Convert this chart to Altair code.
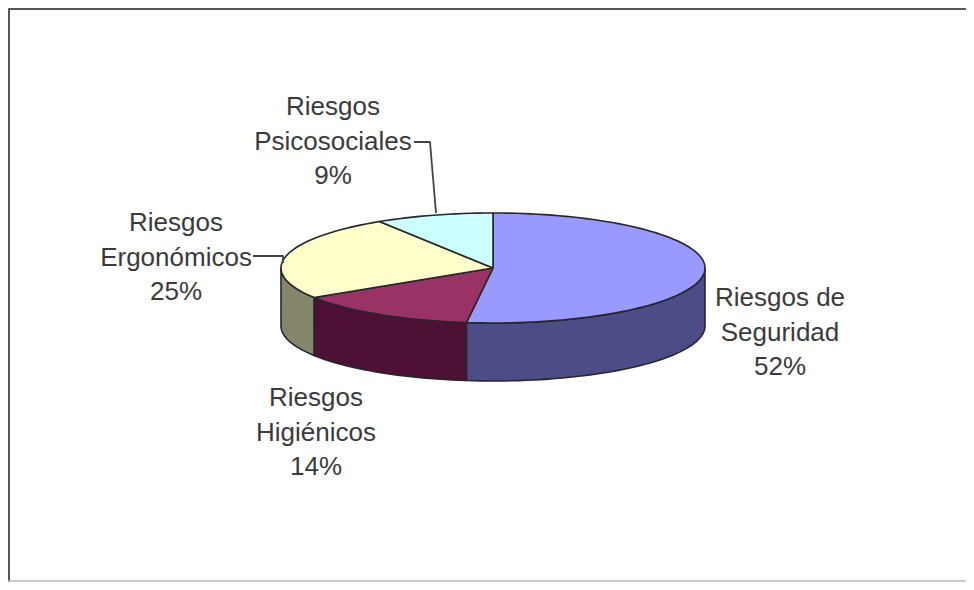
import math
import altair as alt
import pandas as pd

# --- data -------------------------------------------------------------
names = ["Riesgos de Seguridad", "Riesgos Higiénicos", "Riesgos Ergonómicos", "Riesgos Psicosociales"]
shares = [52, 14, 25, 9]
label_lines = [["Riesgos de", "Seguridad"], ["Riesgos", "Higiénicos"], ["Riesgos", "Ergonómicos"], ["Riesgos", "Psicosociales"]]

# --- styling ----------------------------------------------------------
top_colors = ["#9999FF", "#993366", "#FFFFCC", "#CCFFFF"]
wall_colors = ["#4C4C86", "#4E1035", "#85856C", "#66807F"]
label_anchor = [(780, 298), (316, 398), (176, 223), (333, 107)]
LINE_STEP = 34.5
CX, CY, RX, RY, DEPTH = 493, 268, 212, 55, 58
W, H = 958, 574
OUTLINE = "#26262B"
TEXT = "#3A3A3A"

xs = alt.Scale(domain=[8, 8 + W], range=[0, W], nice=False, zero=False)
ys = alt.Scale(domain=[8, 8 + H], range=[0, H], nice=False, zero=False)


def pt(deg, drop=0):
    r = math.radians(deg)
    return CX + RX * math.sin(r), CY - RY * math.cos(r) + drop


def sweep(a, b):
    n = max(2, int(abs(b - a) / 2))
    return [a + (b - a) * i / n for i in range(n + 1)]


def shape(points, fill, stroke=OUTLINE, width=1.6):
    df = pd.DataFrame([{"px": p[0], "py": p[1], "seq": i} for i, p in enumerate(points)])
    return alt.Chart(df).mark_line(fill=fill, stroke=stroke, strokeWidth=width, strokeJoin="round", interpolate="linear").encode(
        x=alt.X("px:Q", scale=xs, axis=None),
        y=alt.Y("py:Q", scale=ys, axis=None),
        order="seq:Q",
    )


layers = []
# frame
layers.append(shape([(9, 582), (9, 9), (966, 9)], "transparent", "#555555", 2))
layers.append(shape([(8, 581), (966, 581)], "transparent", "#BBBBBB", 1.5))

cum = [0]
for s in shares:
    cum.append(cum[-1] + s)
angles = [c * 3.6 for c in cum]

# side walls
for i in range(len(shares)):
    a, b = max(angles[i], 90), min(angles[i + 1], 270)
    if a < b:
        arc = sweep(a, b)
        pts = [pt(t) for t in arc] + [pt(t, DEPTH) for t in reversed(arc)]
        layers.append(shape(pts + pts[:1], wall_colors[i]))

# top faces
for i in range(len(shares)):
    arc = sweep(angles[i], angles[i + 1])
    pts = [(CX, CY)] + [pt(t) for t in arc] + [(CX, CY)]
    layers.append(shape(pts, top_colors[i]))

# leader lines
layers.append(shape([(414, 142), (430, 142), (436, 213)], "transparent", "#444444", 1.8))
layers.append(shape([(253, 256), (283, 256), (283, 263)], "transparent", "#444444", 1.8))

# labels
rows = []
for i, name in enumerate(names):
    ax, ay = label_anchor[i]
    lines = label_lines[i] + [f"{shares[i]}%"]
    for j, t in enumerate(lines):
        rows.append({"name": name, "t": t, "px": ax, "py": ay + j * LINE_STEP})
text = alt.Chart(pd.DataFrame(rows)).mark_text(
    font="Liberation Sans", fontSize=26, color=TEXT, align="center", baseline="middle"
).encode(
    x=alt.X("px:Q", scale=xs, axis=None),
    y=alt.Y("py:Q", scale=ys, axis=None),
    text="t:N",
)
layers.append(text)

chart = alt.layer(*layers).properties(
    width=W, height=H, padding=0, autosize=alt.AutoSizeParams(type="none")
).configure_view(stroke=None).configure(background="white")
chart.save("out.html", embed_options={"renderer": "svg", "actions": False})
